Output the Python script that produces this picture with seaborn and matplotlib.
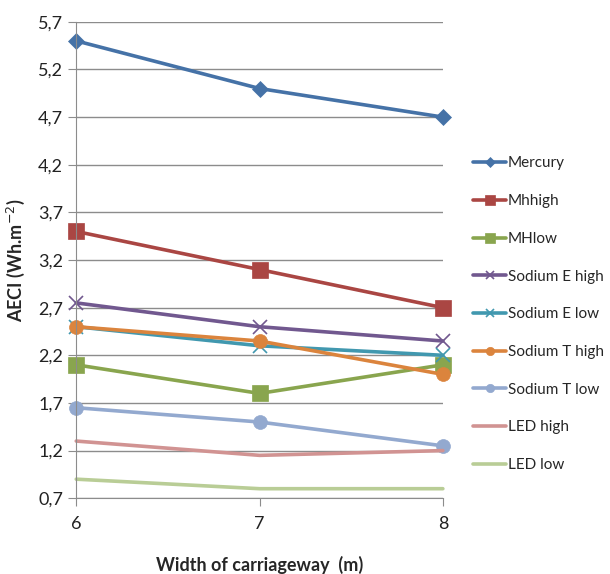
import pandas as pd
import matplotlib
matplotlib.use('Agg')
import matplotlib.pyplot as plt
import seaborn as sns
from matplotlib.ticker import FuncFormatter

widths = [6, 7, 8]
series_names = ['Mercury', 'Mhhigh', 'MHlow', 'Sodium E high', 'Sodium E low',
                'Sodium T high', 'Sodium T low', 'LED high', 'LED low']
mercury = [5.5, 5.0, 4.7]
mhhigh = [3.5, 3.1, 2.7]
mhlow = [2.1, 1.8, 2.1]
sodium_e_high = [2.75, 2.5, 2.35]
sodium_e_low = [2.5, 2.3, 2.2]
sodium_t_high = [2.5, 2.35, 2.0]
sodium_t_low = [1.65, 1.5, 1.25]
led_high = [1.3, 1.15, 1.2]
led_low = [0.9, 0.8, 0.8]
values = [mercury, mhhigh, mhlow, sodium_e_high, sodium_e_low,
          sodium_t_high, sodium_t_low, led_high, led_low]

colors = ['#4572A7', '#AA4643', '#89A54E', '#71588F', '#4198AF',
          '#DB843D', '#93A9CF', '#D19392', '#B9CD96']
markers = ['D', 's', 's', 'x', 'x', 'o', 'o', None, None]
msizes = [8, 11, 11, 10, 10, 10, 10, 0, 0]

rows = []
for name, vals in zip(series_names, values):
    for w, v in zip(widths, vals):
        rows.append({'width': w, 'aeci': v, 'series': name})
df = pd.DataFrame(rows)

sns.set_style('white')
plt.rcParams['font.family'] = ['Lato', 'DejaVu Sans']

fig = plt.figure(figsize=(6.1, 5.74), dpi=100)
ax = fig.add_axes([0.125, 0.132, 0.601, 0.830])

for name, c, m, ms in zip(series_names, colors, markers, msizes):
    sub = df[df['series'] == name]
    kw = {}
    if m is not None:
        kw = dict(marker=m, markersize=ms, markeredgecolor=c,
                  markeredgewidth=1.2 if m == 'x' else 0.5)
    sns.lineplot(data=sub, x='width', y='aeci', ax=ax, color=c, linewidth=2.6,
                 label=name, clip_on=False, **kw)

ax.set_xlim(6, 8)
ax.set_ylim(0.7, 5.7)
ax.set_yticks([0.7, 1.2, 1.7, 2.2, 2.7, 3.2, 3.7, 4.2, 4.7, 5.2, 5.7])
ax.yaxis.set_major_formatter(FuncFormatter(lambda v, p: f'{v:.1f}'.replace('.', ',')))
ax.set_xticks(widths)
ax.yaxis.grid(True, color='#8c8c8c', linewidth=1)
ax.xaxis.grid(False)
for s in ['top', 'right']:
    ax.spines[s].set_visible(False)
ax.spines['left'].set_color('#8c8c8c')
ax.spines['bottom'].set_color('#8c8c8c')
ax.tick_params(axis='x', direction='out', length=6, color='#8c8c8c',
               labelsize=13, pad=7, bottom=True, labelcolor='#222222')
ax.tick_params(axis='y', direction='out', length=6, color='#8c8c8c',
               labelsize=13, left=True, labelcolor='#222222')
ax.set_xlabel('Width of carriageway  (m)', fontsize=13, fontweight='bold', labelpad=17)
ax.set_ylabel('AECI (Wh.m$^{-2}$)', fontsize=13, fontweight='bold', labelpad=8)

handles, labels = ax.get_legend_handles_labels()
ax.get_legend().remove()
fig.legend(handles, labels, loc='upper left', bbox_to_anchor=(0.765, 0.738),
           frameon=False, fontsize=11, labelspacing=1.55, handlelength=2.2,
           handletextpad=0.1, borderaxespad=0, markerscale=0.6)

fig.savefig('out.png', dpi=100)
